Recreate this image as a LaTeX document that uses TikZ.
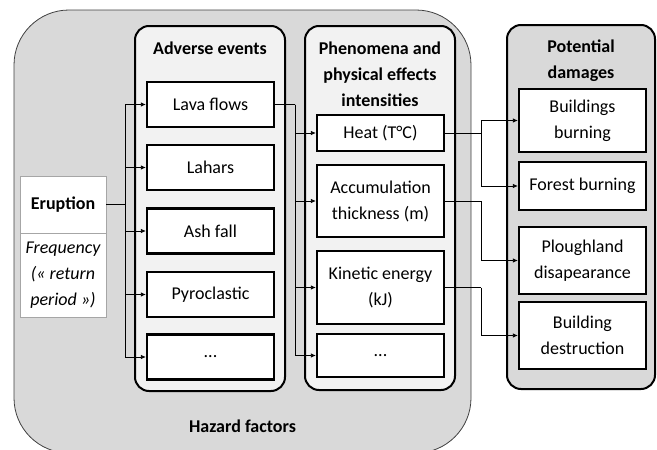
\documentclass[tikz,border=0pt]{standalone}
\usepackage{fontspec}
\setmainfont{Carlito}
\usetikzlibrary{arrows.meta}
\definecolor{outerfill}{HTML}{D9D9D9}
\definecolor{groupfill}{HTML}{F2F2F2}
\begin{document}
\begin{tikzpicture}[x=1pt,y=-1pt,
  every node/.style={font=\fontsize{18}{26}\selectfont, align=center, inner sep=0pt},
  outerbox/.style={fill=outerfill, draw=black!75, line width=0.8pt, rounded corners=55pt},
  groupbox/.style={fill=groupfill, draw=black, line width=2pt, rounded corners=14pt},
  dmgbox/.style={fill=outerfill, draw=black, line width=2pt, rounded corners=14pt},
  item/.style={draw=black, fill=white, line width=2.2pt, minimum width=127pt},
  src/.style={draw=black!35, fill=white, line width=0.8pt, minimum width=86pt},
  conn/.style={line width=0.8pt, -{Latex[length=5pt,width=4.5pt]}},
  wire/.style={line width=0.8pt},
  title/.style={font=\fontsize{18}{26}\selectfont\bfseries}
]
\useasboundingbox (0,0) rectangle (657,450);
% outer hazard region
\path[outerbox] (14,10) rectangle (471,453);
\node[title] (haz) at (242.5,426) {Hazard factors};
% groups
\path[groupbox] (135,26) rectangle (285,391);
\path[groupbox] (305,26) rectangle (455,390);
\path[dmgbox] (507,25) rectangle (655,389);
\node[title] (tadv) at (210,48) {Adverse events};
\node[title] (tphe) at (380,74) {Phenomena and\\physical effects\\intensities};
\node[title] (tdmg) at (581,61) {Potential\\damages};
% eruption
\node[src, minimum height=57pt] (erupt) at (63,204.5) {\bfseries Eruption};
\node[src, minimum height=84pt] (freq) at (63,275) {\itshape Frequency\\\itshape (« return\\\itshape period »)};
% adverse events
\node[item, minimum height=45pt] (lava) at (210.5,104.5) {Lava flows};
\node[item, minimum height=45pt] (lahar) at (210.5,167.5) {Lahars};
\node[item, minimum height=45pt] (ash) at (210.5,231) {Ash fall};
\node[item, minimum height=45pt] (pyro) at (210.5,294.5) {Pyroclastic};
\node[item, minimum height=45pt] (advdots) at (210.5,357) {...};
% phenomena
\node[item, minimum height=36pt] (heat) at (380.5,133) {Heat (T°C)};
\node[item, minimum height=72pt] (accum) at (380.5,201) {Accumulation\\thickness (m)};
\node[item, minimum height=73pt] (kin) at (380.5,287.5) {Kinetic energy\\(kJ)};
\node[item, minimum height=43pt] (phedots) at (380.5,355.5) {...};
% damages
\node[item, minimum height=63pt] (bburn) at (582.5,120.5) {Buildings\\burning};
\node[item, minimum height=48pt] (fburn) at (582.5,186) {Forest burning};
\node[item, minimum height=67pt] (plough) at (582.5,260.5) {Ploughland\\disapearance};
\node[item, minimum height=67pt] (bdest) at (582.5,335.5) {Building\\destruction};
% connectors eruption -> adverse
\coordinate (ej) at (125,204.5);
\draw[wire] (erupt.east) -- (ej);
\foreach \t in {lava,lahar,ash,pyro,advdots} \draw[conn] (ej) |- (\t.west);
% lava -> phenomena
\coordinate (lj) at (295,104.5);
\draw[wire] (lava.east) -- (lj);
\foreach \t in {heat,accum,kin,phedots} \draw[conn] (lj) |- (\t.west);
% phenomena -> damages
\coordinate (hj) at (481,133);
\draw[wire] (heat.east) -- (hj);
\draw[conn] (hj) |- (bburn.west);
\draw[conn] (hj) |- (fburn.west);
\coordinate (aj) at (481,201);
\draw[wire] (accum.east) -- (aj);
\draw[conn] (aj) |- (plough.west);
\coordinate (kj) at (481,287.5);
\draw[wire] (kin.east) -- (kj);
\draw[conn] (kj) |- (bdest.west);
\end{tikzpicture}
\end{document}
